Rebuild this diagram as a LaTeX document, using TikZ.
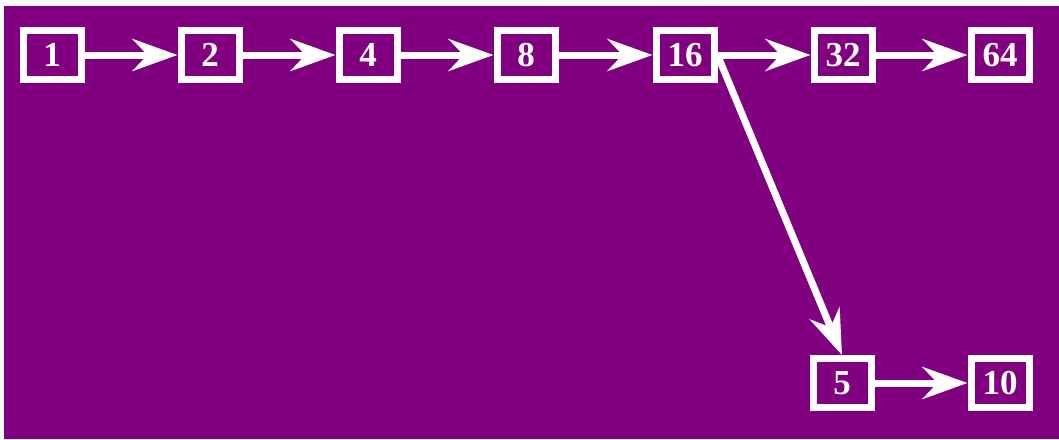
\documentclass[tikz,border=0pt]{standalone}
\usepackage{fontspec}
\setmainfont{Liberation Serif}
\usetikzlibrary{arrows.meta}
\definecolor{bgpurple}{RGB}{128,0,128}
\definecolor{fg}{RGB}{255,255,255}
\begin{document}
\begin{tikzpicture}[x=1pt,y=-1pt,
  numbox/.style={draw=fg, line width=7pt, minimum width=58pt, minimum height=49pt,
    inner sep=0pt, text=fg, font=\fontsize{35}{35}\selectfont\bfseries},
  link/.style={draw=fg, line width=7pt,
    -{Stealth[length=45pt,width=32pt,inset=15pt]}}]
\useasboundingbox (0,0) rectangle (1059,439);
\fill[white] (0,0) rectangle (1059,439);
\fill[bgpurple] (4,6) rectangle (1059,439);
\node[numbox] (n1)  at (52,55)  {1};
\node[numbox] (n2)  at (210,55) {2};
\node[numbox] (n4)  at (368,55) {4};
\node[numbox] (n8)  at (526,55) {8};
\node[numbox] (n16) at (685,55) {16};
\node[numbox] (n32) at (843,55) {32};
\node[numbox] (n64) at (1000,55) {64};
\node[numbox] (n5)  at (842,383) {5};
\node[numbox] (n10) at (1000,383) {10};
\draw[link] (n1) -- (n2);
\draw[link] (n2) -- (n4);
\draw[link] (n4) -- (n8);
\draw[link] (n8) -- (n16);
\draw[link] (n16) -- (n32);
\draw[link] (n32) -- (n64);
\draw[link] (n5) -- (n10);
\draw[link] (n16.east) -- (n5.north);
\end{tikzpicture}
\end{document}
